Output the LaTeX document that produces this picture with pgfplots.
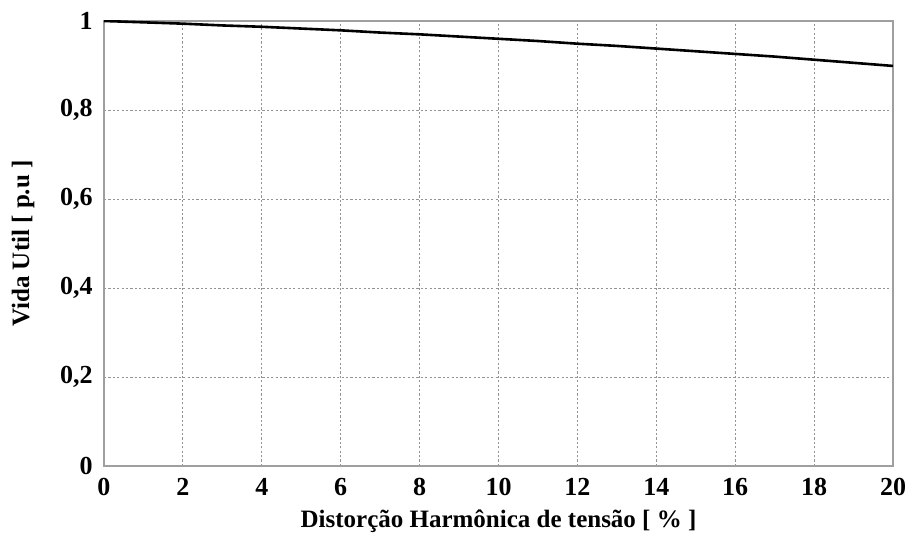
\documentclass[border=0pt]{standalone}
\usepackage{fontspec}
\setmainfont{Liberation Serif}
\usepackage{pgfplots}
\pgfplotsset{compat=1.18}
\begin{document}
\begin{tikzpicture}
\begin{axis}[
  scale only axis,
  width=394.5pt, height=222.5pt,
  xmin=0, xmax=20, ymin=0, ymax=1,
  xtick={0,2,...,20},
  ytick={0,0.2,0.4,0.6,0.8,1},
  /pgf/number format/assume math mode=true,
  /pgf/number format/use comma,
  tick label style={font=\bfseries\fontsize{13}{15}\selectfont, inner sep=0pt},
  yticklabel style={anchor=east, xshift=-5.5pt},
  xticklabel style={anchor=center, yshift=-10.5pt},
  major tick length=0pt,
  axis line style={gray!75, line width=0.8pt},
  grid=major,
  major grid style={gray!85, line width=0.45pt, dash pattern=on 1.1pt off 1.1pt},
  xlabel={Distorção Harmônica de tensão [ \% ]},
  ylabel={Vida Util [ p.u ]},
  label style={font=\bfseries\fontsize{12.5}{14}\selectfont, inner sep=0pt},
  xlabel style={at={([yshift=-27.5pt]axis description cs:0.5,0)}, anchor=center},
  ylabel style={at={([xshift=-40.5pt]axis description cs:0,0.5)}, anchor=center, rotate=0},
]
\addplot[black, line width=1.3pt] coordinates {
(0,1.000) (1,0.997) (2,0.994) (3,0.990) (4,0.987) (5,0.983) (6,0.979)
(7,0.974) (8,0.970) (9,0.965) (10,0.960) (11,0.955) (12,0.949) (13,0.944)
(14,0.938) (15,0.932) (16,0.926) (17,0.920) (18,0.913) (19,0.906) (20,0.899)
};
\end{axis}
\pgfresetboundingbox
\useasboundingbox ([xshift=-52pt,yshift=-33.5pt]current axis.south west) rectangle ([xshift=8pt,yshift=10.5pt]current axis.north east);
\end{tikzpicture}
\end{document}
